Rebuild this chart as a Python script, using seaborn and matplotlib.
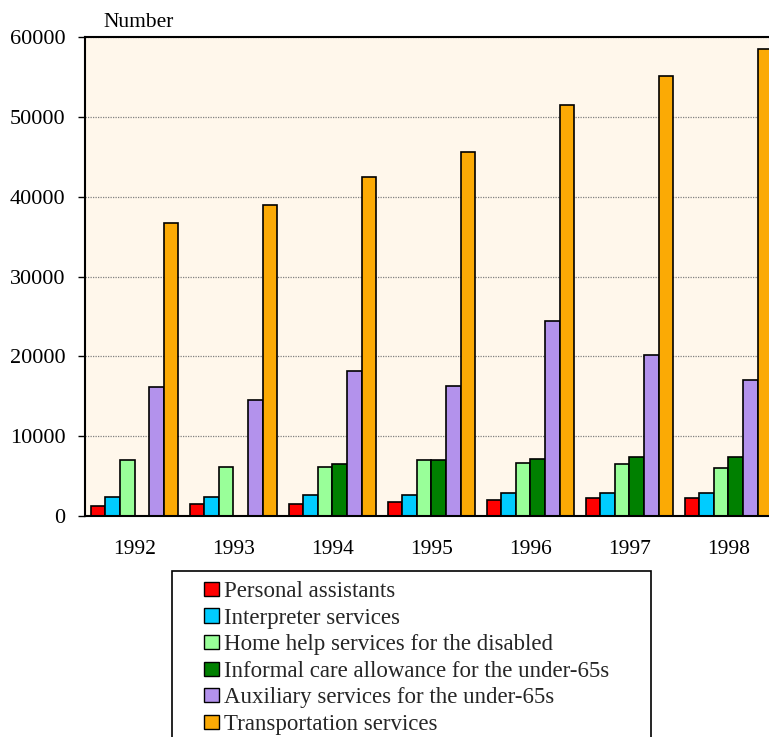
import matplotlib
matplotlib.use("Agg")
import matplotlib.pyplot as plt
from matplotlib.patches import Rectangle, Patch
from matplotlib.ticker import StrMethodFormatter
import seaborn as sns
import pandas as pd

# Number of recipients per service, by year
years = ["1992", "1993", "1994", "1995", "1996", "1997", "1998"]
services = [
    "Personal assistants",
    "Interpreter services",
    "Home help services for the disabled",
    "Informal care allowance for the under-65s",
    "Auxiliary services for the under-65s",
    "Transportation services",
]
personal_assistants = [1300, 1500, 1500, 1700, 1950, 2200, 2200]
interpreter_services = [2400, 2400, 2650, 2650, 2850, 2850, 2850]
home_help = [7000, 6100, 6100, 7000, 6700, 6500, 6050]
informal_care = [0, 0, 6500, 7000, 7200, 7450, 7450]
auxiliary_services = [16100, 14500, 18150, 16300, 24400, 20200, 17000]
transportation = [36700, 38900, 42500, 45600, 51500, 55100, 58500]

colors = ["#FF0000", "#00CCFF", "#99FF99", "#008000", "#B392EC", "#FBAA05"]

series = [personal_assistants, interpreter_services, home_help,
          informal_care, auxiliary_services, transportation]
rows = []
for name, values in zip(services, series):
    for year, v in zip(years, values):
        rows.append({"year": year, "service": name, "count": v})
df = pd.DataFrame(rows)

sns.set_style("white")
plt.rcParams["font.family"] = ["Liberation Serif", "DejaVu Serif"]

W, H = 769, 737
fig = plt.figure(figsize=(W / 100, H / 100), dpi=100)
fig.patch.set_facecolor("white")

ax_left, ax_top, ax_bottom = 85, 37, 516
cat_w = 99.0
ax = fig.add_axes([ax_left / W, 1 - ax_bottom / H,
                   7 * cat_w / W, (ax_bottom - ax_top) / H])
ax.set_facecolor("#FFF7EB")

sns.barplot(data=df, x="year", y="count", hue="service",
            order=years, hue_order=services, palette=colors,
            width=0.885, saturation=1, edgecolor="black", linewidth=1.2,
            legend=False, ax=ax, errorbar=None)

ax.set_xlim(-0.5, 6.5)
ax.set_ylim(0, 60000)
ax.set_yticks(range(0, 60001, 10000))
ax.yaxis.set_major_formatter(StrMethodFormatter("{x:.0f}"))
ax.set_xlabel("")
ax.set_ylabel("")

ax.set_axisbelow(True)
ax.yaxis.grid(True, color="#808080", linestyle=(0, (1, 1)), linewidth=0.9)
ax.xaxis.grid(False)

for side in ["left", "top", "bottom"]:
    ax.spines[side].set_visible(True)
    ax.spines[side].set_color("black")
    ax.spines[side].set_linewidth(1.5)
ax.spines["right"].set_visible(False)

ax.tick_params(axis="y", left=True, length=5, width=1, color="black",
               pad=9, labelsize=16, labelcolor="black")
ax.tick_params(axis="x", bottom=False, length=0, pad=17,
               labelsize=15.5, labelcolor="black")

fig.text(103 / W, 1 - 27 / H, "Number", fontsize=15.5, color="black",
         ha="left", va="baseline")

# Legend box below the plot
fig.patches.append(Rectangle((172 / W, -20 / H), (651 - 172) / W,
                             (H - 571 + 20) / H, transform=fig.transFigure,
                             facecolor="white", edgecolor="black",
                             linewidth=1.2, zorder=0))
handles = [Patch(facecolor=c, edgecolor="black", linewidth=1) for c in colors]
fig.legend(handles, services, loc="upper left",
           bbox_to_anchor=(204 / W, 1 - 581 / H), frameon=False,
           fontsize=16.5, handlelength=0.66, handleheight=0.57,
           handletextpad=0.22, labelspacing=0.245, borderpad=0,
           borderaxespad=0)

fig.savefig("out.png", dpi=100)
